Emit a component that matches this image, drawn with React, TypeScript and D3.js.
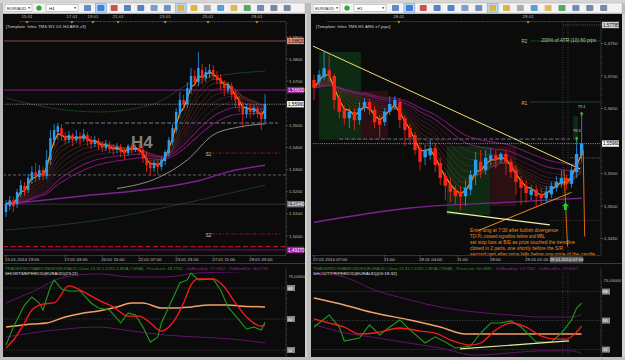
import React from "react";
import * as d3 from "d3";

// ================= LEFT CHART: EURAUD H4 =================
const leftOpen = [1.5108,1.5135,1.5162,1.5144,1.5190,1.5226,1.5208,1.5253,1.5289,1.5266,
 1.5298,1.5271,1.5343,1.5434,1.5470,1.5488,1.5452,1.5434,1.5457,1.5434,
 1.5452,1.5438,1.5457,1.5434,1.5416,1.5429,1.5411,1.5398,1.5411,1.5398,
 1.5389,1.5402,1.5384,1.5375,1.5407,1.5389,1.5398,1.5389,1.5352,1.5325,
 1.5307,1.5330,1.5312,1.5339,1.5375,1.5425,1.5479,1.5552,1.5615,1.5597,
 1.5660,1.5724,1.5696,1.5751,1.5714,1.5733,1.5751,1.5724,1.5714,1.5687,
 1.5660,1.5678,1.5642,1.5615,1.5588,1.5552,1.5579,1.5561,1.5575,1.5552,
 1.5529];
const leftClose = [1.5144,1.5162,1.5135,1.5199,1.5230,1.5208,1.5262,1.5289,1.5271,1.5298,
 1.5271,1.5343,1.5443,1.5479,1.5497,1.5452,1.5434,1.5457,1.5434,1.5452,
 1.5438,1.5461,1.5429,1.5416,1.5434,1.5411,1.5398,1.5416,1.5393,1.5389,
 1.5402,1.5380,1.5371,1.5407,1.5389,1.5402,1.5384,1.5352,1.5321,1.5307,
 1.5330,1.5312,1.5343,1.5380,1.5434,1.5488,1.5561,1.5615,1.5597,1.5669,
 1.5724,1.5696,1.5760,1.5714,1.5742,1.5751,1.5724,1.5705,1.5687,1.5669,
 1.5683,1.5638,1.5615,1.5588,1.5552,1.5579,1.5561,1.5579,1.5552,1.5529,
 1.5596];
const leftHigh = [1.5162,1.5181,1.5176,1.5212,1.5253,1.5244,1.5280,1.5316,1.5330,1.5321,
 1.5312,1.5389,1.5479,1.5506,1.5511,1.5506,1.5470,1.5475,1.5466,1.5479,
 1.5470,1.5484,1.5470,1.5452,1.5452,1.5443,1.5429,1.5434,1.5429,1.5416,
 1.5420,1.5416,1.5398,1.5416,1.5420,1.5411,1.5416,1.5407,1.5380,1.5343,
 1.5343,1.5348,1.5357,1.5389,1.5448,1.5506,1.5579,1.5651,1.5638,1.5696,
 1.5760,1.5751,1.5832,1.5778,1.5764,1.5778,1.5773,1.5746,1.5733,1.5705,
 1.5696,1.5696,1.5660,1.5633,1.5606,1.5597,1.5597,1.5592,1.5588,1.5570,
 1.5642];
const leftLow = [1.5086,1.5117,1.5108,1.5126,1.5176,1.5181,1.5194,1.5235,1.5244,1.5253,
 1.5253,1.5257,1.5321,1.5407,1.5434,1.5434,1.5416,1.5420,1.5407,1.5425,
 1.5411,1.5429,1.5407,1.5393,1.5402,1.5389,1.5380,1.5384,1.5375,1.5366,
 1.5375,1.5357,1.5343,1.5362,1.5371,1.5380,1.5366,1.5330,1.5289,1.5271,
 1.5289,1.5280,1.5298,1.5321,1.5357,1.5411,1.5466,1.5533,1.5570,1.5579,
 1.5642,1.5678,1.5678,1.5687,1.5696,1.5714,1.5705,1.5687,1.5660,1.5633,
 1.5642,1.5615,1.5579,1.5561,1.5488,1.5533,1.5533,1.5547,1.5533,1.5479,
 1.5515];

const leftPriceTicks = [1.59, 1.58, 1.57, 1.56, 1.55, 1.54, 1.53, 1.52, 1.51, 1.50];
const leftTopDates = ["15.01", "17.01", "19.01", "21.01", "23.01", "25.01", "29.01"];
const leftTopDatePos = [5.7, 17.8, 23.5, 30.3, 43, 54.6, 67.8];
const leftTimeLabels = ["15.01.2014 19:00", "17.01 03:00", "20.01 15:00", "22.01 07:00", "23.01 23:00", "27.01 11:00", "29.01 03:00"];
const leftTimePos = [0, 16, 26, 36, 46, 56, 66];

// slow curves (bar index, price)
const leftSlowPurple: [number, number][] = [[0,1.5144],[20,1.5180],[40,1.5215],[52,1.5250],[60,1.5290],[70,1.5320]];
const leftSlowGray: [number, number][] = [[30,1.5215],[41,1.5263],[49,1.5344],[56,1.5457],[63,1.5493],[70,1.5507]];
const leftBandUpper: [number, number][] = [[0,1.5624],[12,1.5579],[25,1.5561],[39,1.5592],[52,1.5705],[70,1.5746]];
const leftBandLower: [number, number][] = [[0,1.5027],[25,1.5072],[52,1.5162],[70,1.5230]];

// horizontal levels (left)
const leftLevelSalmon = 1.5882;
const leftLevelPurple = 1.5660;
const leftCurrent = 1.5596;
const leftLevelDashed = 1.5511;
const leftS1 = 1.5375;
const leftGrayDashed = 1.5276;
const leftGraySolid = 1.5144;
const leftS2 = 1.5009;
const leftRedDashed = 1.4952;
const leftPurpleLow = 1.4937;

// TDI indicator (left) [bar index, value]
const leftTdiGreen: [number, number][] = [[0,34.9],[2,45.3],[5,58.1],[7,62.8],[9,59.3],[10,55.2],[12,68.6],[13,72.7],[15,67.4],[17,66.3],[20,66.3],[23,59.3],[25,56.4],[28,55.2],[31,47.7],[33,53.5],[35,52.3],[37,45.3],[39,36.6],[41,39.5],[42,47.7],[44,57.0],[47,70.9],[49,72.7],[50,76.7],[52,72.7],[56,73.3],[58,66.9],[60,57.0],[63,49.4],[65,44.2],[67,45.3],[69,43.6],[70,48.3]];
const leftTdiRed: [number, number][] = [[0,33.1],[2,37.8],[5,47.7],[7,55.2],[10,58.7],[13,59.3],[17,69.2],[21,65.7],[25,61.0],[29,57.0],[33,51.7],[36,51.7],[39,47.7],[42,43.0],[45,47.7],[48,59.3],[50,69.8],[52,73.3],[56,73.3],[59,68.6],[62,59.3],[65,51.2],[69,45.9],[70,46.5]];
const leftTdiBase: [number, number][] = [[0,45.3],[7,47.1],[11,47.7],[16,51.2],[21,53.5],[25,54.7],[30,57.0],[34,59.3],[37,59.3],[42,56.4],[46,56.4],[50,57.0],[55,58.1],[60,58.1],[63,57.6],[70,57.0]];
const leftTdiUp: [number, number][] = [[0,59.3],[7,65.7],[16,74.4],[25,76.2],[34,74.4],[43,74.4],[52,76.7],[61,77.3],[70,77.9]];
const leftTdiDn: [number, number][] = [[0,39.5],[7,41.9],[16,44.2],[25,45.3],[34,43.0],[43,40.7],[52,39.5],[61,38.4],[70,36.1]];
const leftTdiTitle = ["TRADERSDYNAMICINDEX(EURAUD,Close,13,34,1.6185,2,MVA,7,MVA) - PriceLine: 48,2762 - ", "VolBandUp: 77,9302 - VolBandDn: 36,0736"];
const leftTimeTitle = "SHOWTIMEPERIOD(EURAUD)(23:21)";

// ================= RIGHT CHART: EURAUD H1 =================
const rightOpen = [1.5694,1.5691,1.5698,1.5709,1.5700,1.5666,1.5648,1.5635,1.5645,1.5632,
 1.5651,1.5660,1.5648,1.5632,1.5629,1.5645,1.5654,1.5660,1.5635,1.5620,
 1.5609,1.5589,1.5575,1.5578,1.5589,1.5566,1.5546,1.5534,1.5525,1.5522,
 1.5515,1.5525,1.5548,1.5568,1.5555,1.5571,1.5578,1.5571,1.5580,1.5568,
 1.5555,1.5540,1.5531,1.5517,1.5525,1.5518,1.5512,1.5518,1.5528,1.5534,
 1.5543,1.5534,1.5552,1.5578];
const rightClose = [1.5682,1.5702,1.5712,1.5700,1.5663,1.5645,1.5635,1.5645,1.5632,1.5651,
 1.5660,1.5648,1.5629,1.5625,1.5645,1.5657,1.5663,1.5632,1.5617,1.5605,
 1.5586,1.5568,1.5586,1.5589,1.5563,1.5543,1.5531,1.5522,1.5515,1.5514,
 1.5528,1.5548,1.5571,1.5555,1.5574,1.5578,1.5571,1.5580,1.5568,1.5552,
 1.5537,1.5528,1.5520,1.5525,1.5515,1.5512,1.5522,1.5531,1.5537,1.5543,
 1.5534,1.5555,1.5580,1.5596];
const rightHigh = [1.5702,1.5709,1.5737,1.5732,1.5703,1.5671,1.5655,1.5651,1.5651,1.5660,
 1.5666,1.5665,1.5654,1.5640,1.5651,1.5669,1.5669,1.5666,1.5640,1.5626,
 1.5614,1.5597,1.5594,1.5602,1.5597,1.5574,1.5552,1.5543,1.5532,1.5531,
 1.5540,1.5555,1.5583,1.5586,1.5586,1.5589,1.5586,1.5583,1.5586,1.5574,
 1.5563,1.5546,1.5540,1.5532,1.5531,1.5528,1.5531,1.5537,1.5546,1.5555,
 1.5548,1.5563,1.5605,1.5640];
const rightLow = [1.5663,1.5686,1.5694,1.5691,1.5648,1.5635,1.5625,1.5620,1.5617,1.5625,
 1.5645,1.5640,1.5620,1.5605,1.5623,1.5640,1.5648,1.5620,1.5592,1.5594,
 1.5578,1.5555,1.5563,1.5571,1.5552,1.5532,1.5509,1.5506,1.5502,1.5494,
 1.5500,1.5517,1.5532,1.5543,1.5548,1.5563,1.5558,1.5566,1.5548,1.5543,
 1.5517,1.5502,1.5505,1.5509,1.5497,1.5502,1.5505,1.5512,1.5522,1.5528,
 1.5525,1.5528,1.5543,1.5568];

const rightPriceTicks = [1.575, 1.570, 1.565, 1.560, 1.555, 1.550, 1.545];
const rightTopDates = ["28.01", "29.01"];
const rightTopDatePos = [16.8, 42.4];
const rightTimeLabels = ["27.01.2014 07:00", "21:00", "28.01 04:00", "11:00", "18:00", "29.01 01:00"];
const rightTimePos = [0, 14, 21, 28.5, 35, 42];
const rightCursorLabel = "29.01.2014 07:00";
const rightCursorPos = 50;

const rightSlowPurple: [number, number][] = [[0,1.5475],[19,1.5497],[39,1.5506],[53,1.5512]];
// zones: [i0, i1, pTop, pBottom, kind]
const rightZones: [number, number, number, number, string][] = [
  [1, 9.3, 1.5737, 1.5602, "g"], [9.3, 14.7, 1.5677, 1.5602, "r"],
  [26.3, 34.9, 1.5592, 1.5486, "g"], [34.9, 40, 1.5592, 1.5500, "r"],
  [51.3, 52.3, 1.5638, 1.5602, "g"]];
const rightTrendYellow: [number, number][] = [[-0.2, 1.5746], [52.7, 1.5557]];
const rightTrendOrange: [number, number][] = [[32.5, 1.5462], [51, 1.5521]];
const rightTrendLow: [number, number][] = [[26.3, 1.5491], [46.7, 1.5471]];
const rightR2 = 1.5754;
const rightR1 = 1.5660;
const rightTopLevel = 1.57785;
const rightSlateDashed = 1.5603;
const rightCurrent = 1.5596;
const rightShortWhite = 1.5574;
const rightRedDotted = 1.5478;
const rightVLines = [49.3, 50.3];
const rightArrows: [number, number, number][] = [[53, 1.5645, 1], [52, 1.5607, 1], [49.8, 1.5505, 1.8]];
const rightArrowLabels: [number, number, string][] = [[53, 1.5651, "79.1"], [52, 1.5614, "78.3"]];
const annotation = [
  "Entry long at 7:00 after bullish divergence",
  "TDI PL crossed signalline before and MBL",
  "set stop loss at B/E as price touched the trendline",
  "closed in 2 parts, one shortly before the S/R",
  "second part after price falls below ope price of the candle"];
const annotationWidths = [88, 75, 105, 93, 125];

const rightTdiGreen: [number, number][] = [[0,46.0],[3,53.5],[5,46.0],[6,37.3],[9,39.2],[11,47.3],[13,41.1],[15,46.0],[17,50.4],[19,44.2],[22,36.1],[24,39.9],[26,36.7],[28,33.0],[31,34.2],[33,42.3],[35,48.5],[37,48.5],[39,49.8],[41,46.0],[44,36.7],[47,36.7],[49,42.3],[51,50.4],[52,57.8],[53,60.9]];
const rightTdiRed: [number, number][] = [[0,51.0],[3,48.5],[6,46.0],[9,41.7],[12,42.3],[17,45.4],[21,43.5],[24,42.3],[27,38.0],[31,34.8],[33,36.1],[36,44.2],[39,48.5],[42,46.0],[45,40.4],[48,38.5],[50,38.5],[52,42.9],[53,46.6]];
const rightTdiBase: [number, number][] = [[0,64.0],[6,59.7],[12,54.7],[19,50.4],[25,46.0],[30,41.7],[53,41.7]];
const rightTdiUp: [number, number][] = [[0,80.2],[6,77.1],[12,69.0],[19,62.8],[25,58.4],[32,55.3],[39,53.5],[45,52.2],[51,52.2],[53,53.7]];
const rightTdiDn: [number, number][] = [[0,47.5],[6,42.5],[12,39.5],[19,36.0],[25,33.0],[32,28.5],[39,30.0],[45,31.2],[51,31.2],[53,29.6]];
const rightTdiDiv: [number, number][] = [[28.9, 32.4], [50.5, 37.4]];
const rightTdiTitle = ["TRADERSDYNAMICINDEX(EURAUD,Close,13,34,1.6185,2,MVA,7,MVA) - PriceLine: 60,9685 - ", "VolBandUp: 53,7562 - VolBandDn: 29,6067"];
const rightTimeTitle = "SHOWTIMEPERIOD(EURAUD)(03:18:32)";

const tdiLevels = [68, 50, 32];
const tdiMax = 75;
const fanPeriods = [5, 7, 9, 12, 15, 19, 24, 30, 38];

// ---------------- helpers ----------------
const BLUE = "#2a9cf0";
const RED = "#ff2418";
const FONT = "Liberation Sans, Arial, sans-serif";
const p4 = (v: number) => d3.format(".4f")(v).replace(".", ",");
const p5 = (v: number) => d3.format(".5f")(v).replace(".", ",");

function ema(vals: number[], period: number): number[] {
  const k = 2 / (period + 1);
  const out: number[] = [];
  let prev = vals[0];
  vals.forEach((v, i) => { prev = i === 0 ? v : v * k + prev * (1 - k); out.push(prev); });
  return out;
}

function Candles({ o, h, l, c, x, y, w }: any) {
  return (
    <g>
      {o.map((_: number, i: number) => {
        const up = c[i] >= o[i];
        const col = up ? BLUE : RED;
        const cx = x(i);
        const top = y(Math.max(o[i], c[i]));
        const bh = Math.max(0.8, Math.abs(y(o[i]) - y(c[i])));
        return (
          <g key={i}>
            <line x1={cx} x2={cx} y1={y(h[i])} y2={y(l[i])} stroke={col} strokeWidth={0.8} />
            <rect x={cx - w / 2} y={top} width={w} height={bh} fill={col} />
          </g>
        );
      })}
    </g>
  );
}

function Fan({ close, x, y, fast }: any) {
  const col = d3.scaleLinear<string>().domain([0, fanPeriods.length - 1]).range(["#8a4818", "#6a1660"]).interpolate(d3.interpolateRgb);
  const line = d3.line<number>().x((_, i) => x(i)).y((v) => y(v));
  const n = fanPeriods.length;
  return (
    <g>
      {fanPeriods.map((p, k) => (
        <path key={p} d={line(ema(close, p)) || ""} fill="none"
          stroke={k >= n - 2 ? "#8e1a80" : col(k)} strokeWidth={k >= n - 2 ? 1.1 : 0.6} opacity={0.8} />
      ))}
      <path d={line(ema(close, fast)) || ""} fill="none" stroke="#ff8a10" strokeWidth={1.3} />
    </g>
  );
}

function PairLine({ pts, x, y, stroke, width = 1, curve = d3.curveMonotoneX, dash }: any) {
  const line = d3.line<[number, number]>().x((d) => x(d[0])).y((d) => y(d[1])).curve(curve);
  return <path d={line(pts) || ""} fill="none" stroke={stroke} strokeWidth={width} strokeDasharray={dash} />;
}

function HLine({ x1, x2, yv, stroke, width = 1, dash }: any) {
  return <line x1={x1} x2={x2} y1={yv} y2={yv} stroke={stroke} strokeWidth={width} strokeDasharray={dash} />;
}

function PriceBox({ x, yv, w, text, bg, fg }: any) {
  return (
    <g>
      <rect x={x} y={yv - 3.2} width={w} height={6.4} fill={bg} />
      <text x={x + 1} y={yv + 1.7} fontSize={4.6} fill={fg} fontFamily={FONT}>{text}</text>
    </g>
  );
}

function Toolbar({ x0, x1, tf }: any) {
  const icons = [
    ["#4a78c0", 0], ["#2f6fd0", 1], ["#c03838", 0], ["#3a6fb8", 0], ["#3a6fb8", 0], ["#6a8fc0", 0],
    ["#5a7fb0", 0], ["#e0b020", 1], ["#d8a828", 0], ["#9aa0a8", 0], ["#3a90d0", 0], ["#d8b040", 0],
    ["#3a9a4a", 0], ["#5a78a8", 0], ["#607890", 0], ["#607890", 0]];
  const start = x0 + 81;
  const step = (x1 - 8 - start) / icons.length;
  return (
    <g>
      <rect x={x0 - 3} y={0} width={x1 - x0 + 6} height={3} fill="#d6d6d6" />
      <rect x={x0} y={3} width={x1 - x0} height={10} fill="#f3f3f3" stroke="#b0b0b0" strokeWidth={0.5} />
      <rect x={x0 + 2} y={4.5} width={27} height={7} fill="#fff" stroke="#999" strokeWidth={0.5} />
      <text x={x0 + 4} y={9.7} fontSize={4.3} fill="#222" fontFamily={FONT}>EUR/AUD</text>
      <path d={`M${x0 + 25},7.3 l2.4,0 l-1.2,1.6 z`} fill="#333" />
      <circle cx={x0 + 36} cy={8} r={2.6} fill="#2ea82e" />
      <rect x={x0 + 43} y={4.5} width={32} height={7} fill="#fff" stroke="#999" strokeWidth={0.5} />
      <text x={x0 + 46} y={9.7} fontSize={4.3} fill="#222" fontFamily={FONT}>{tf}</text>
      <path d={`M${x0 + 71},7.3 l2.4,0 l-1.2,1.6 z`} fill="#333" />
      {icons.map(([c, sel], k) => {
        const ix = start + k * step;
        return (
          <g key={k}>
            {sel ? <rect x={ix - 2} y={3.8} width={11} height={8.4} fill="#bcd8f4" stroke="#5f97d0" strokeWidth={0.5} /> : null}
            <rect x={ix} y={5} width={7} height={6} fill={c as string} opacity={0.85} rx={0.8} />
          </g>
        );
      })}
    </g>
  );
}

function TdiTitle({ x, width, parts, timeText, timeWidth }: any) {
  return (
    <g fontFamily={FONT}>
      <text x={x} y={270} fontSize={3.6} textLength={width} lengthAdjust="spacingAndGlyphs">
        <tspan fill="#2e9a2e">{parts[0]}</tspan>
        <tspan fill="#a0209a">{parts[1]}</tspan>
      </text>
      <text x={x} y={275.2} fontSize={4.2} fill="#e0e0e0" textLength={timeWidth} lengthAdjust="spacingAndGlyphs">{timeText}</text>
    </g>
  );
}

export default function App() {
  // ---- Left scales
  const lx = d3.scaleLinear().domain([0, 70]).range([6, 265]);
  const ly = d3.scaleLinear().domain([1.50, 1.59]).range([236, 37]);
  const liy = d3.scaleLinear().domain([32, 68]).range([350, 288]);
  // ---- Right scales
  const rx = d3.scaleLinear().domain([0, 53]).range([314, 581.65]);
  const ry = d3.scaleLinear().domain([1.545, 1.575]).range([238.5, 43.5]);
  const riy = d3.scaleLinear().domain([32, 68]).range([349.6, 291.6]);

  const L = { x0: 3, x1: 305, px1: 286, ax1: 304 };
  const R = { x0: 311, x1: 622, px1: 601, ax1: 621 };
  const mainTop = 22, mainBot = 255, winBot = 263, indTop = 264, indBot = 357;

  const leftBoxes = [
    { v: leftLevelSalmon, bg: "#d98a78", fg: "#1a1a1a" },
    { v: leftLevelPurple, bg: "#8a1f8a", fg: "#ffffff" },
    { v: leftCurrent, bg: "#f2f2f2", fg: "#000000" },
    { v: leftGraySolid, bg: "#707070", fg: "#ffffff" },
    { v: leftPurpleLow, bg: "#9a1a9a", fg: "#ffffff" }];
  const rightBoxes = [
    { v: rightTopLevel, bg: "#d0d0d0", fg: "#111" },
    { v: rightCurrent, bg: "#f2f2f2", fg: "#000" }];

  const minorTicks = (a: number, b: number, step: number) => d3.range(a, b + 1e-9, step);

  const TimeAxisTop = ({ x, labels, pos, x0, x1 }: any) => (
    <g>
      <line x1={x0 + 16} x2={x1} y1={21.5} y2={21.5} stroke="#555" strokeWidth={0.5} />
      {d3.range(x0 + 18, x1, 4.4).map((t, k) => <line key={k} x1={t} x2={t} y1={21.5} y2={22.8} stroke="#555" strokeWidth={0.4} />)}
      {labels.map((t: string, k: number) => (
        <g key={t}>
          <text x={x(pos[k])} y={18.4} fontSize={4.4} fill="#bdbdbd" textAnchor="middle" fontFamily={FONT}>{t}</text>
          <path d={`M${x(pos[k]) - 1.6},21.2 l3.2,0 l-1.6,2.4 z`} fill="#d9a21a" />
        </g>
      ))}
    </g>
  );

  const TimeAxisBottom = ({ x, labels, pos, x0, x1 }: any) => (
    <g>
      <line x1={x0 + 1} x2={x1} y1={mainBot + 0.5} y2={mainBot + 0.5} stroke="#5a5a5a" strokeWidth={0.5} />
      {labels.map((t: string, k: number) => (
        <g key={t}>
          <line x1={x(pos[k])} x2={x(pos[k])} y1={mainBot} y2={mainBot + 2.5} stroke="#777" strokeWidth={0.5} />
          <text x={Math.max(x0 + 2, x(pos[k]) - 1)} y={261} fontSize={4.4} fill="#c2c2c2" fontFamily={FONT}>{t}</text>
        </g>
      ))}
    </g>
  );

  const PriceAxis = ({ y, ticks, axisX, boxes, minorA, minorB, minorStep }: any) => (
    <g>
      <line x1={axisX} x2={axisX} y1={mainTop} y2={mainBot} stroke="#555" strokeWidth={0.5} />
      {minorTicks(minorA, minorB, minorStep).map((v, k) => (
        <line key={k} x1={axisX} x2={axisX + 1.5} y1={y(v)} y2={y(v)} stroke="#555" strokeWidth={0.4} />
      ))}
      {ticks.filter((t: number) => !boxes.some((b: any) => Math.abs(y(b.v) - y(t)) < 3)).map((t: number) => (
        <g key={t}>
          <line x1={axisX} x2={axisX + 2.5} y1={y(t)} y2={y(t)} stroke="#777" strokeWidth={0.5} />
          <text x={axisX + 3} y={y(t) + 1.6} fontSize={4.4} fill="#bdbdbd" fontFamily={FONT}>{p4(t)}</text>
        </g>
      ))}
      {boxes.map((b: any) => <PriceBox key={b.v} x={axisX + 1} yv={y(b.v)} w={17} text={p5(b.v)} bg={b.bg} fg={b.fg} />)}
    </g>
  );

  const IndicatorAxis = ({ y, axisX }: any) => (
    <g>
      <line x1={axisX} x2={axisX} y1={indTop + 4} y2={indBot} stroke="#555" strokeWidth={0.5} />
      {d3.range(26, 76, 3).map((v) => <line key={v} x1={axisX} x2={axisX + 1.5} y1={y(v)} y2={y(v)} stroke="#555" strokeWidth={0.4} />)}
      <text x={axisX + 2.5} y={y(tdiMax) + 1.6} fontSize={4.2} fill="#bdbdbd" fontFamily={FONT}>{d3.format(".5f")(tdiMax).replace(".", ",")}</text>
      {tdiLevels.map((v) => (
        <g key={v}>
          <rect x={axisX + 1} y={y(v) - 3} width={8} height={6} fill="#8a8a8a" />
          <text x={axisX + 2} y={y(v) + 1.6} fontSize={4.2} fill="#fff" fontFamily={FONT}>{v}</text>
        </g>
      ))}
    </g>
  );

  const Tdi = ({ x, y, green, red, base, up, dn, x0, x1 }: any) => (
    <g>
      {tdiLevels.map((v) => <HLine key={v} x1={x0 + 1} x2={x1} yv={y(v)} stroke="#6a6a6a" width={0.6} dash="1,1.5" />)}
      <PairLine pts={up} x={x} y={y} stroke="#5e1466" width={1} />
      <PairLine pts={dn} x={x} y={y} stroke="#5e1466" width={1} />
      <PairLine pts={base} x={x} y={y} stroke="#f3a168" width={1.5} />
      <PairLine pts={green} x={x} y={y} stroke="#1f9a1f" width={1.1} curve={d3.curveLinear} />
      <PairLine pts={red} x={x} y={y} stroke="#ff1a1a" width={1.3} />
    </g>
  );

  return (
    <svg width={625} height={360} style={{ position: "fixed", left: 0, top: 0, display: "block" }} fontFamily={FONT}>
      <defs>
        <clipPath id="clipL"><rect x={L.x0 + 1} y={mainTop} width={L.px1 - L.x0 - 1} height={mainBot - mainTop} /></clipPath>
        <clipPath id="clipR"><rect x={R.x0 + 1} y={mainTop} width={R.px1 - R.x0 - 1} height={mainBot - mainTop} /></clipPath>
        <clipPath id="clipLI"><rect x={L.x0 + 1} y={indTop + 8} width={L.px1 - L.x0 - 1} height={indBot - indTop - 8} /></clipPath>
        <clipPath id="clipRI"><rect x={R.x0 + 1} y={indTop + 8} width={R.px1 - R.x0 - 1} height={indBot - indTop - 8} /></clipPath>
      </defs>
      <rect x={0} y={0} width={625} height={360} fill="#bcbcbc" />

      {/* ============ LEFT PANEL ============ */}
      <Toolbar x0={L.x0} x1={L.x1} tf="H4" />
      <rect x={L.x0} y={14} width={L.ax1 - L.x0 + 1} height={winBot - 14} fill="#0b0b0b" />
      <rect x={L.x0} y={indTop} width={L.ax1 - L.x0 + 1} height={indBot - indTop} fill="#0b0b0b" />
      <rect x={L.ax1 + 1} y={14} width={L.x1 - L.ax1 + 1} height={indBot - 14} fill="#d2d2d2" />
      <TimeAxisTop x={lx} labels={leftTopDates} pos={leftTopDatePos} x0={L.x0} x1={L.px1} />
      <text x={L.x0 + 3} y={27.5} fontSize={4.4} fill="#cfcfcf" fontFamily={FONT}>[Template: fxfox TMS W1 D1 H4 ARS v3]</text>
      <g clipPath="url(#clipL)">
        <text x={lx(33.8)} y={ly(1.5396)} fontSize={17} fontWeight="bold" fill="#808080" fontFamily={FONT}>H4</text>
        <PairLine pts={leftBandUpper} x={lx} y={ly} stroke="#1e4a1e" width={0.8} />
        <PairLine pts={leftBandLower} x={lx} y={ly} stroke="#1e4a1e" width={0.8} />
        <HLine x1={L.x0} x2={L.px1} yv={ly(leftLevelSalmon)} stroke="#a85a50" width={0.8} />
        <HLine x1={L.x0} x2={L.px1} yv={ly(leftLevelPurple)} stroke="#8a1f8a" width={1} />
        <HLine x1={lx(16)} x2={lx(73.5)} yv={ly(leftLevelDashed)} stroke="#7a7aa0" width={1} dash="4,2" />
        <HLine x1={lx(55.5)} x2={lx(74)} yv={ly(leftS1)} stroke="#b01a24" width={0.8} dash="3,1.5,1,1.5" />
        <HLine x1={L.x0} x2={L.px1} yv={ly(leftGrayDashed)} stroke="#8a8a8a" width={0.7} dash="3,2" />
        <HLine x1={L.x0} x2={L.px1} yv={ly(leftGraySolid)} stroke="#3e3e3e" width={0.8} />
        <HLine x1={lx(55.5)} x2={lx(74)} yv={ly(leftS2)} stroke="#b01a24" width={0.8} dash="3,1.5,1,1.5" />
        <HLine x1={L.x0} x2={L.px1} yv={ly(leftRedDashed)} stroke="#b8102a" width={1.2} dash="5,2.5" />
        <HLine x1={L.x0} x2={L.px1} yv={ly(leftPurpleLow)} stroke="#8a1a8a" width={0.8} />
        <text x={lx(54)} y={ly(leftS1) + 3} fontSize={4.6} fill="#cfcfcf" fontFamily={FONT}>S1</text>
        <text x={lx(54)} y={ly(leftS2) + 3} fontSize={4.6} fill="#cfcfcf" fontFamily={FONT}>S2</text>
        <PairLine pts={leftSlowPurple} x={lx} y={ly} stroke="#7a2490" width={1.5} />
        <PairLine pts={leftSlowGray} x={lx} y={ly} stroke="#9a9a9a" width={0.9} />
        <Fan close={leftClose} x={lx} y={ly} fast={3} />
        <Candles o={leftOpen} h={leftHigh} l={leftLow} c={leftClose} x={lx} y={ly} w={2.4} />
        <HLine x1={L.x0} x2={L.px1} yv={ly(leftCurrent)} stroke="#c8c8c8" width={0.7} dash="1,1.2" />
      </g>
      <PriceAxis y={ly} ticks={leftPriceTicks} axisX={L.px1} boxes={leftBoxes} minorA={1.492} minorB={1.596} minorStep={0.002} />
      <TimeAxisBottom x={lx} labels={leftTimeLabels} pos={leftTimePos} x0={L.x0} x1={L.px1} />
      <line x1={L.x0} x2={L.ax1 + 1} y1={winBot + 0.5} y2={winBot + 0.5} stroke="#3a3a3a" strokeWidth={1} />

      {/* left indicator */}
      <TdiTitle x={L.x0 + 2} width={263} parts={leftTdiTitle} timeText={leftTimeTitle} timeWidth={73} />
      <g clipPath="url(#clipLI)">
        <Tdi x={lx} y={liy} green={leftTdiGreen} red={leftTdiRed} base={leftTdiBase} up={leftTdiUp} dn={leftTdiDn} x0={L.x0} x1={L.px1} />
      </g>
      <IndicatorAxis y={liy} axisX={L.px1} />

      {/* ============ RIGHT PANEL ============ */}
      <Toolbar x0={R.x0} x1={R.x1} tf="H1" />
      <rect x={R.x0} y={14} width={R.ax1 - R.x0 + 1} height={winBot - 14} fill="#0b0b0b" />
      <rect x={R.x0} y={indTop} width={R.ax1 - R.x0 + 1} height={indBot - indTop} fill="#0b0b0b" />
      <TimeAxisTop x={rx} labels={rightTopDates} pos={rightTopDatePos} x0={R.x0} x1={R.px1} />
      <text x={R.x0 + 5} y={27.5} fontSize={4.4} fill="#cfcfcf" fontFamily={FONT}>[Template: fxfox TMS H1 ARS x7 pips]</text>
      <g clipPath="url(#clipR)">
        {rightZones.map(([a, b, pt, pb, k], n) => (
          <rect key={n} x={rx(a)} y={ry(pt)} width={rx(b) - rx(a)} height={ry(pb) - ry(pt)} fill={k === "g" ? "#0f2a12" : "#2a1012"} />
        ))}
        {rightVLines.map((v) => <line key={v} x1={rx(v)} x2={rx(v)} y1={mainTop} y2={mainBot} stroke="#6a6a6a" strokeWidth={0.5} strokeDasharray="1,1.5" />)}
        <HLine x1={rx(49.3)} x2={R.px1} yv={ry(rightTopLevel)} stroke="#8a8a8a" width={0.6} dash="1,1.2" />
        <HLine x1={rx(42.9)} x2={R.px1} yv={ry(rightR2)} stroke="#1fa81f" width={0.8} dash="1,1" />
        <HLine x1={rx(42.9)} x2={R.px1} yv={ry(rightR1)} stroke="#1fa81f" width={0.8} dash="1,1" />
        <text x={rx(41.1)} y={ry(rightR2) + 2.5} fontSize={4.6} fill="#bdbdbd" fontFamily={FONT}>R2</text>
        <text x={rx(41.1)} y={ry(rightR1) + 2.5} fontSize={4.6} fill="#bdbdbd" fontFamily={FONT}>R1</text>
        <text x={rx(45)} y={ry(rightR2) + 1.5} fontSize={4.8} fill="#b8c8b0" fontFamily={FONT}>200% of ATR (10) 60 pips</text>
        <HLine x1={rx(5)} x2={rx(50.7)} yv={ry(rightSlateDashed)} stroke="#707090" width={1} dash="4,2" />
        <HLine x1={rx(50.7)} x2={R.px1} yv={ry(rightShortWhite)} stroke="#b0b0b0" width={0.6} dash="1,1.2" />
        <HLine x1={rx(46.5)} x2={R.px1} yv={ry(rightRedDotted)} stroke="#c01a1a" width={0.7} dash="1,1" />
        <PairLine pts={rightSlowPurple} x={rx} y={ry} stroke="#7a2490" width={1.4} />
        <Fan close={rightClose} x={rx} y={ry} fast={3} />
        <PairLine pts={rightTrendYellow} x={rx} y={ry} stroke="#efe070" width={1} curve={d3.curveLinear} />
        <PairLine pts={rightTrendOrange} x={rx} y={ry} stroke="#f08a20" width={1} curve={d3.curveLinear} />
        <PairLine pts={rightTrendLow} x={rx} y={ry} stroke="#f2f0a8" width={1.2} curve={d3.curveLinear} />
        <Candles o={rightOpen} h={rightHigh} l={rightLow} c={rightClose} x={rx} y={ry} w={3.4} />
        <line x1={rx(49.5)} x2={rx(50.2)} y1={ry(1.5555)} y2={ry(1.5438)} stroke="#e87818" strokeWidth={0.9} />
        <line x1={rx(53.3)} x2={rx(53.6)} y1={ry(1.5586)} y2={ry(1.5453)} stroke="#e87818" strokeWidth={0.9} />
        {rightArrows.map(([i, p, s], n) => (
          <path key={n} transform={`translate(${rx(i)},${ry(p)}) scale(${s})`} d="M0,0 L2,2 L0.8,2 L0.8,4 L-0.8,4 L-0.8,2 L-2,2 Z" fill="#2ec82e" />
        ))}
        {rightArrowLabels.map(([i, p, t]) => (
          <text key={t} x={rx(i)} y={ry(p)} fontSize={4} fill="#c8c8c8" textAnchor="middle" fontFamily={FONT}>{t}</text>
        ))}
        <HLine x1={R.x0} x2={R.px1} yv={ry(rightCurrent)} stroke="#c8c8c8" width={0.7} dash="1,1.2" />
        {annotation.map((t, k) => (
          <text key={k} x={470} y={ry(1.5460) + k * 6.1} fontSize={5.2} fill="#f08a1a" textLength={annotationWidths[k]} lengthAdjust="spacingAndGlyphs" fontFamily={FONT}>{t}</text>
        ))}
      </g>
      <PriceAxis y={ry} ticks={rightPriceTicks} axisX={R.px1} boxes={rightBoxes} minorA={1.543} minorB={1.579} minorStep={0.001} />
      <TimeAxisBottom x={rx} labels={rightTimeLabels} pos={rightTimePos} x0={R.x0} x1={R.px1} />
      <rect x={rx(rightCursorPos) - 16.5} y={256.5} width={33} height={6} fill="#5a5a5a" />
      <text x={rx(rightCursorPos)} y={261} fontSize={4.4} fill="#f0f0f0" textAnchor="middle" fontFamily={FONT}>{rightCursorLabel}</text>
      <line x1={R.x0} x2={R.ax1 + 1} y1={winBot + 0.5} y2={winBot + 0.5} stroke="#3a3a3a" strokeWidth={1} />

      {/* right indicator */}
      <TdiTitle x={R.x0 + 2} width={265} parts={rightTdiTitle} timeText={rightTimeTitle} timeWidth={84} />
      <g clipPath="url(#clipRI)">
        {rightVLines.map((v) => <line key={v} x1={rx(v)} x2={rx(v)} y1={indTop + 8} y2={indBot} stroke="#6a6a6a" strokeWidth={0.5} strokeDasharray="1,1.5" />)}
        <Tdi x={rx} y={riy} green={rightTdiGreen} red={rightTdiRed} base={rightTdiBase} up={rightTdiUp} dn={rightTdiDn} x0={R.x0} x1={R.px1} />
        <PairLine pts={rightTdiDiv} x={rx} y={riy} stroke="#eeeaa0" width={1.2} curve={d3.curveLinear} />
      </g>
      <IndicatorAxis y={riy} axisX={R.px1} />
      <rect x={R.ax1 + 1} y={14} width={625 - R.ax1 - 1} height={indBot - 14} fill="#d2d2d2" />
    </svg>
  );
}
